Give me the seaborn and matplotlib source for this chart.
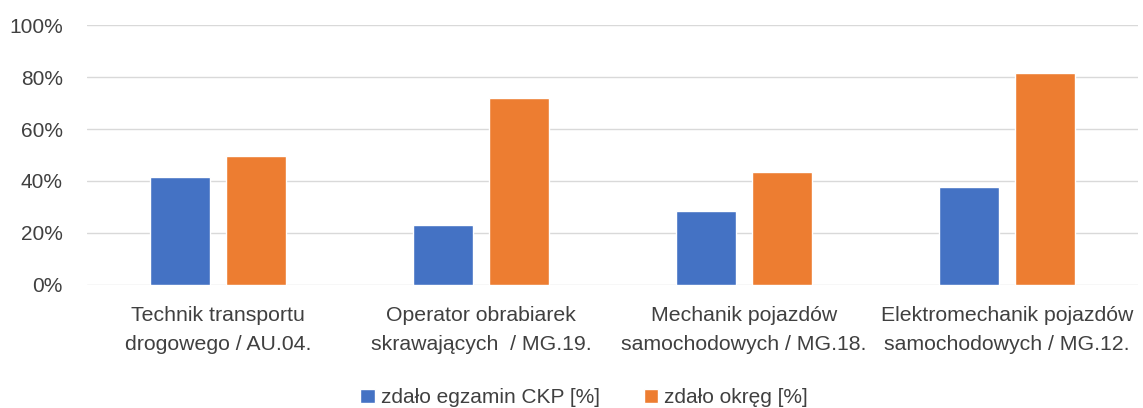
import pandas as pd
import seaborn as sns
import matplotlib.pyplot as plt
from matplotlib.ticker import PercentFormatter

# Values (fractions)
categories = [
    "Technik transportu\ndrogowego / AU.04.",
    "Operator obrabiarek\nskrawających  / MG.19.",
    "Mechanik pojazdów\nsamochodowych / MG.18.",
    "Elektromechanik pojazdów\nsamochodowych / MG.12.",
]
series_names = ["zdało egzamin CKP [%]", "zdało okręg [%]"]
ckp_values = [0.415, 0.231, 0.285, 0.378]
okreg_values = [0.498, 0.721, 0.436, 0.817]
y_ticks = [0, 0.2, 0.4, 0.6, 0.8, 1.0]

colors = ["#4472C4", "#ED7D31"]
text_color = "#404040"

df = pd.DataFrame({
    "category": categories * 2,
    "series": [series_names[0]] * 4 + [series_names[1]] * 4,
    "value": ckp_values + okreg_values,
})

sns.set_theme(style="white")
plt.rcParams["font.family"] = ["Liberation Sans", "DejaVu Sans"]

fig = plt.figure(figsize=(11.43, 4.08), dpi=100)
ax = fig.add_axes([0.0757, 0.3015, 0.9203, 0.6372])

sns.barplot(data=df, x="category", y="value", hue="series", palette=colors,
            width=0.58, gap=0.21, saturation=1, ax=ax, legend=True)

ax.set_ylim(0, 1)
ax.set_xlim(-0.5, 3.5)
ax.set_yticks(y_ticks)
ax.yaxis.set_major_formatter(PercentFormatter(1.0, decimals=0))
ax.grid(axis="y", color="#D9D9D9", linewidth=1)
ax.set_axisbelow(True)
for s in ax.spines.values():
    s.set_visible(False)
ax.tick_params(axis="y", length=0, pad=17, labelsize=15, labelcolor=text_color)
ax.tick_params(axis="x", length=0, pad=15, labelsize=15.3, labelcolor=text_color)
for lbl in ax.get_xticklabels():
    lbl.set_linespacing(1.65)
ax.set_xlabel("")
ax.set_ylabel("")

ax.legend(loc="center", bbox_to_anchor=(0.511, 0.025), bbox_transform=fig.transFigure,
          ncol=2, frameon=False, fontsize=15, labelcolor=text_color,
          handlelength=0.7, handleheight=0.7, handletextpad=0.3, columnspacing=2.1)

fig.savefig("out.png", dpi=100)
